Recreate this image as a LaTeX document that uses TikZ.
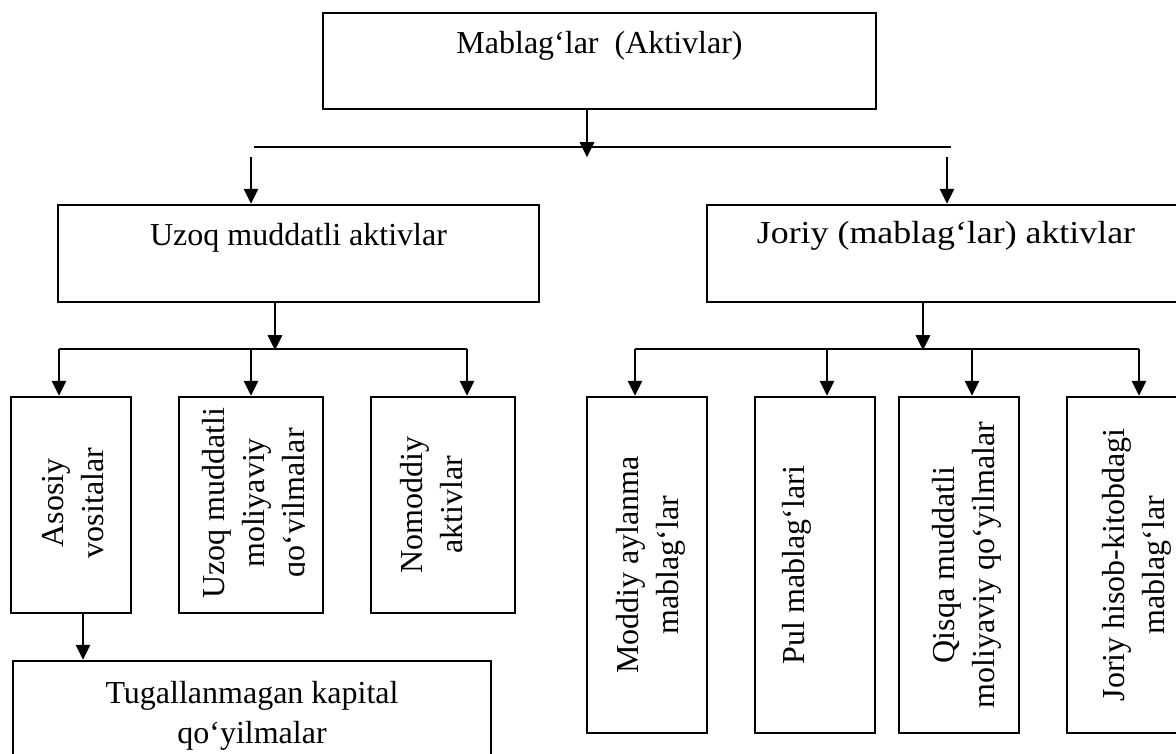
\documentclass[tikz,border=0pt]{standalone}
\usepackage{fontspec}
\setmainfont{Liberation Serif}
\newfontfamily\widefont[FakeStretch=1.12]{Liberation Serif}
\usetikzlibrary{arrows.meta}
\begin{document}
\begin{tikzpicture}[x=1pt,y=-1pt,
  every node/.style={font=\fontsize{32pt}{40pt}\selectfont, inner sep=0pt},
  box/.style={draw, line width=2.4pt, rectangle, inner sep=0pt},
  arr/.style={line width=2.8pt, -{Triangle[length=15pt,width=14pt]}},
  bus/.style={line width=2.3pt},
  vtext/.style={rotate=90, align=center}]
\useasboundingbox (0,0) rectangle (1176,753);

% level 1
\node[box, minimum width=553pt, minimum height=96pt, text height=40pt, text depth=56pt] (top) at (599.5,61) {Mablag‘lar\ \ (Aktivlar)};

% level 2
\node[box, minimum width=481pt, minimum height=97pt, text height=40pt, text depth=57pt] (uzoq) at (298.5,253.5) {Uzoq muddatli aktivlar};
\node[box, minimum width=478pt, minimum height=97pt, text height=38pt, text depth=59pt] (joriy) at (946,253.5) {\widefont Joriy (mablag‘lar) aktivlar};

% level 3 left
\node[box, minimum width=120pt, minimum height=216pt] (asosiy) at (71,505) {};
\node[box, minimum width=144pt, minimum height=216pt] (uzoqmol) at (251,505) {};
\node[box, minimum width=144pt, minimum height=216pt] (nomod) at (443,505) {};
\node[vtext] (asosiyT) at (73,503) {Asosiy\\vositalar};
\begin{scope}
  \clip (179,397) rectangle (304,613);
  \node[vtext] (uzoqmolT) at (257,503) {Uzoq muddatli\\moliyaviy\\qo‘yilmalar};
\end{scope}
\node[vtext] (nomodT) at (432,505) {Nomoddiy\\aktivlar};

% level 4 left
\node[box, minimum width=478pt, minimum height=120pt] (tug) at (252,721) {};
\node[align=center] (tugT) at (252,716) {Tugallanmagan kapital\\qo‘yilmalar};

% level 3 right
\node[box, minimum width=120pt, minimum height=336pt] (moddiy) at (647,565) {};
\node[box, minimum width=120pt, minimum height=336pt] (pul) at (815,565) {};
\node[box, minimum width=120pt, minimum height=336pt] (qisqa) at (959,565) {};
\node[box, minimum width=120pt, minimum height=336pt] (jhisob) at (1127,565) {};
\node[vtext] (moddiyT) at (651,565) {Moddiy aylanma\\mablag‘lar};
\node[vtext] (pulT) at (797,565) {Pul mablag‘lari};
\node[vtext] (qisqaT) at (967,565) {Qisqa muddatli\\moliyaviy qo‘yilmalar};
\node[vtext] (jhisobT) at (1137,565) {Joriy hisob-kitobdagi\\mablag‘lar};

% connectors level 1 -> 2
\coordinate (busL) at (254,147);
\coordinate (busR) at (951,147);
\draw[bus] (busL) -- (busR);
\draw[arr] ([xshift=-12.5pt]top.south) -- ++(0,47);
\coordinate (aL) at (251,157);
\coordinate (aR) at (947,157);
\draw[arr] (aL) -- (aL |- uzoq.north);
\draw[arr] (aR) -- (aR |- joriy.north);

% connectors left branch
\draw[arr] ([xshift=-23.5pt]uzoq.south) -- ++(0,47);
\coordinate (la) at (59,349);
\coordinate (lb) at (251,349);
\coordinate (lc) at (467,349);
\draw[bus] (la) -- (lc);
\draw[arr] (la) -- (la |- asosiy.north);
\draw[arr] (lb) -- (lb |- uzoqmol.north);
\draw[arr] (lc) -- (lc |- nomod.north);
\coordinate (av) at ([xshift=12pt]asosiy.south);
\draw[arr] (av) -- (av |- tug.north);

% connectors right branch
\draw[arr] ([xshift=-23pt]joriy.south) -- ++(0,47);
\coordinate (ra) at (635,349);
\coordinate (rb) at (827,349);
\coordinate (rc) at (972,349);
\coordinate (rd) at (1139,349);
\draw[bus] (ra) -- (rd);
\draw[arr] (ra) -- (ra |- moddiy.north);
\draw[arr] (rb) -- (rb |- pul.north);
\draw[arr] (rc) -- (rc |- qisqa.north);
\draw[arr] (rd) -- (rd |- jhisob.north);
\end{tikzpicture}
\end{document}
